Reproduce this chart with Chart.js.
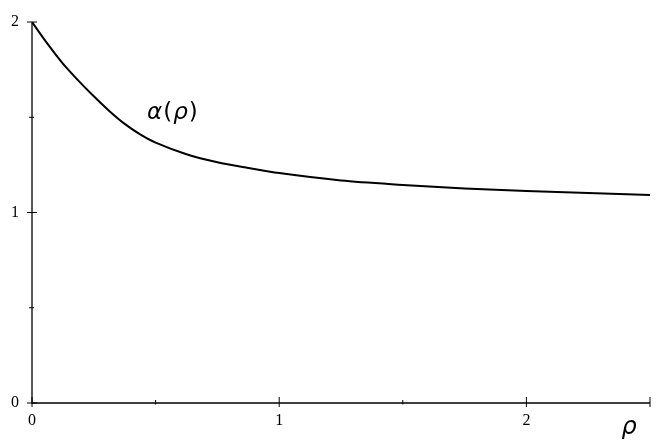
<!DOCTYPE html>
<html>
<head>
<meta charset="utf-8">
<script src="https://cdn.jsdelivr.net/npm/chart.js@4"></script>
<style>
  html, body { margin: 0; padding: 0; background: #fff; }
  #wrap { width: 664px; height: 447px; }
</style>
</head>
<body>
<div id="wrap"><canvas id="alpha-chart"></canvas></div>
<script>
// values
const rho = [0, 0.0625, 0.125, 0.1875, 0.25, 0.3125, 0.375, 0.4375, 0.5, 0.625, 0.75, 0.875, 1.0, 1.25, 1.5, 1.75, 2.0, 2.25, 2.5];
const alpha = [2.0, 1.886, 1.781, 1.692, 1.61, 1.533, 1.465, 1.41, 1.367, 1.306, 1.264, 1.234, 1.207, 1.168, 1.145, 1.126, 1.113, 1.102, 1.092];
const xMajorTicks = [0, 1, 2];
const xMinorTicks = [0.5, 1.5, 2.5];
const yMajorTicks = [0, 1, 2];
const yMinorTicks = [0.5, 1.5];

const tickFont = '16px "Liberation Serif", "DejaVu Serif", serif';

// axes drawn by hand so the ticks cross the axis line like the original
const axesPlugin = {
    id: 'crossAxes',
    afterDraw(chart) {
        const ctx = chart.ctx;
        const x = chart.scales['x'];
        const y = chart.scales['y'];
        const x0 = x.getPixelForValue(0);
        const y0 = y.getPixelForValue(0);
        ctx.save();
        ctx.strokeStyle = '#000';
        ctx.lineWidth = 1.3;
        ctx.beginPath();
        ctx.moveTo(x0, y.getPixelForValue(2));
        ctx.lineTo(x0, y0);
        ctx.lineTo(x.getPixelForValue(2.5), y0);
        ctx.stroke();

        ctx.lineWidth = 1;
        ctx.beginPath();
        xMajorTicks.forEach(v => {
            const px = x.getPixelForValue(v);
            ctx.moveTo(px, y0 - 6);
            ctx.lineTo(px, y0 + 4);
        });
        xMinorTicks.forEach(v => {
            const px = x.getPixelForValue(v);
            ctx.moveTo(px, y0 - (v === 2.5 ? 6 : 3));
            ctx.lineTo(px, y0 + (v === 2.5 ? 4 : 1.5));
        });
        yMajorTicks.forEach(v => {
            const py = y.getPixelForValue(v);
            ctx.moveTo(x0 - 5, py);
            ctx.lineTo(x0 + 5, py);
        });
        yMinorTicks.forEach(v => {
            const py = y.getPixelForValue(v);
            ctx.moveTo(x0 - 3, py);
            ctx.lineTo(x0 + 2, py);
        });
        ctx.stroke();

        ctx.fillStyle = '#000';
        ctx.font = tickFont;
        ctx.textAlign = 'center';
        ctx.textBaseline = 'middle';
        xMajorTicks.forEach(v => {
            ctx.fillText(String(v), x.getPixelForValue(v), y0 + 18);
        });
        yMajorTicks.forEach(v => {
            ctx.fillText(String(v), x0 - 17, y.getPixelForValue(v));
        });

        // axis name and curve label
        ctx.font = 'italic 24px "DejaVu Sans", "Noto Sans", sans-serif';
        ctx.fillText('ρ', 629, 428);

        ctx.textAlign = 'left';
        let lx = 147;
        const ly = 113;
        const parts = [['α', true], ['(', false], ['ρ', true], [')', false]];
        parts.forEach(([t, it]) => {
            ctx.font = (it ? 'italic ' : '') + '23px "DejaVu Sans", "Noto Sans", sans-serif';
            ctx.fillText(t, lx, ly);
            lx += ctx.measureText(t).width + 1;
        });
        ctx.restore();
    }
};

new Chart(document.getElementById('alpha-chart').getContext('2d'), {
    type: 'line',
    data: {
        datasets: [{
            label: 'alpha',
            data: rho.map((r, i) => ({ x: r, y: alpha[i] })),
            borderColor: '#000',
            borderWidth: 2,
            pointRadius: 0,
            fill: false,
            tension: 0.3
        }]
    },
    options: {
        responsive: true,
        maintainAspectRatio: false,
        animation: false,
        layout: { padding: { left: 32, right: 14, top: 22, bottom: 44 } },
        scales: {
            x: { type: 'linear', min: 0, max: 2.5, display: false },
            y: { type: 'linear', min: 0, max: 2, display: false }
        },
        plugins: {
            legend: { display: false },
            tooltip: { enabled: false }
        }
    },
    plugins: [axesPlugin]
});
</script>
</body>
</html>
